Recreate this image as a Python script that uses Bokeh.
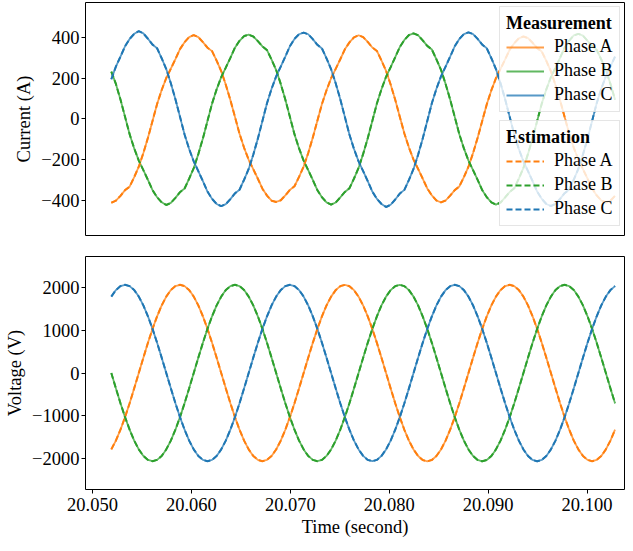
import numpy as np
from bokeh.plotting import figure
from bokeh.layouts import column
from bokeh.models import (Range1d, FixedTicker, CustomJSTickFormatter, PrintfTickFormatter,
                          Legend, LegendItem)
from bokeh.embed import file_html
from bokeh.resources import INLINE

# ---------------- data ----------------
T_START = 20.0519          # first sample time (s)
T_STEP = 0.000463          # sample spacing (s)

ia_meas = [
    -412, -402, -378, -350, -333, -286, -235, -168, -93, -10, 73, 142, 201, 247, 294, 343, 377, 402,
    412, 402, 377, 350, 333, 286, 235, 168, 93, 10, -73, -142, -201, -247, -294, -343, -377, -402,
    -408, -400, -376, -349, -331, -285, -234, -168, -92, -9, 73, 141, 200, 246, 293, 342, 376, 401,
    411, 402, 378, 351, 334, 287, 236, 169, 94, 11, -72, -141, -200, -246, -293, -342, -376, -401,
    -410, -401, -377, -350, -332, -286, -235, -168, -93, -10, 72, 141, 200, 246, 292, 340, 372, 396,
    405, 397, 374, 348, 331, 285, 234, 167, 92, 9, -73, -142, -201, -247, -294, -342, -376, -401,
    -411, -402, -378]
ib_meas = [
    232, 172, 95, 10, -75, -145, -205, -252, -300, -350, -385, -410,
    -423, -413, -388, -360, -342, -294, -242, -173, -96, -10, 75, 145, 205, 252, 300, 350, 384, 407,
    414, 405, 382, 356, 338, 291, 240, 172, 95, 10, -75, -145, -205, -252, -300, -350, -385, -410,
    -421, -411, -386, -359, -341, -293, -241, -172, -95, -10, 76, 146, 207, 254, 303, 353, 388, 412,
    420, 411, 386, 359, 341, 293, 241, 172, 95, 10, -75, -145, -205, -252, -300, -350, -385, -410,
    -421, -411, -386, -359, -341, -293, -241, -172, -95, -10, 75, 145, 205, 252, 300, 350, 385, 410,
    418, 409, 384, 357, 339, 292, 240, 172, 95]
ic_meas = [
    195, 257, 306, 357, 393, 418, 431, 420, 394, 365, 347, 298,
    245, 175, 97, 10, -77, -148, -209, -257, -306, -357, -393, -418,
    -429, -419, -394, -366, -348, -299, -246, -176, -97, -10, 77, 148, 209, 257, 306, 357, 393, 416,
    424, 416, 392, 364, 346, 297, 244, 175, 97, 10, -77, -148, -209, -257, -306, -357, -393, -418,
    -433, -422, -396, -367, -349, -300, -246, -176, -97, -10, 77, 148, 209, 257, 306, 357, 393, 417,
    425, 417, 393, 365, 347, 298, 245, 175, 97, 10, -77, -148, -209, -257, -306, -357, -393, -418,
    -428, -418, -393, -365, -347, -298, -245, -175, -97, -10, 77, 148, 209, 257, 306]

va_meas = [
    -1784, -1578, -1324, -1030, -705, -358, 0, 358, 705, 1030, 1324, 1578, 1784, 1936, 2029, 2060, 2029, 1936,
    1784, 1578, 1324, 1030, 705, 358, 0, -358, -705, -1030, -1324, -1578, -1784, -1936, -2029, -2060, -2029, -1936,
    -1786, -1580, -1325, -1031, -706, -359, -1, 357, 704, 1029, 1323, 1577, 1783, 1935, 2028, 2058, 2027, 1934,
    1782, 1576, 1322, 1028, 703, 356, -1, -359, -706, -1031, -1326, -1580, -1786, -1938, -2031, -2062, -2030, -1937,
    -1785, -1579, -1324, -1030, -705, -358, 0, 358, 705, 1030, 1324, 1578, 1784, 1936, 2029, 2060, 2029, 1936,
    1784, 1578, 1324, 1030, 705, 358, 0, -358, -705, -1030, -1324, -1578, -1784, -1936, -2029, -2060, -2029, -1936,
    -1784, -1578, -1324]
vb_meas = [
    0, -358, -705, -1030, -1324, -1578, -1784, -1936, -2029, -2060, -2029, -1936,
    -1784, -1578, -1324, -1030, -705, -358, 0, 358, 705, 1030, 1324, 1578, 1784, 1936, 2029, 2060, 2029, 1936,
    1784, 1578, 1324, 1030, 705, 358, 0, -358, -705, -1030, -1324, -1578, -1784, -1936, -2029, -2060, -2029, -1936,
    -1785, -1579, -1325, -1031, -706, -359, -1, 357, 704, 1029, 1323, 1577, 1783, 1935, 2028, 2059, 2028, 1935,
    1783, 1577, 1323, 1029, 704, 357, -1, -359, -706, -1031, -1325, -1579, -1785, -1937, -2030, -2061, -2030, -1937,
    -1784, -1578, -1324, -1030, -705, -358, 0, 358, 705, 1030, 1324, 1578, 1784, 1936, 2029, 2060, 2029, 1936,
    1784, 1578, 1324, 1030, 705, 358, 0, -358, -705]
vc_meas = [
    1784, 1936, 2029, 2060, 2029, 1936, 1784, 1578, 1324, 1030, 705, 358,
    0, -358, -705, -1030, -1324, -1578, -1784, -1936, -2029, -2060, -2029, -1936,
    -1784, -1578, -1324, -1030, -705, -358, 0, 358, 705, 1030, 1324, 1578, 1784, 1936, 2029, 2060, 2029, 1936,
    1784, 1578, 1324, 1030, 705, 358, 0, -358, -705, -1030, -1324, -1578, -1784, -1936, -2029, -2060, -2029, -1936,
    -1785, -1579, -1325, -1031, -706, -359, -1, 357, 704, 1029, 1323, 1577, 1783, 1935, 2028, 2059, 2028, 1935,
    1783, 1577, 1323, 1029, 704, 357, -1, -359, -706, -1031, -1325, -1579, -1785, -1937, -2030, -2061, -2030, -1937,
    -1784, -1578, -1324, -1030, -705, -358, 0, 358, 705, 1030, 1324, 1578, 1784, 1936, 2029]

# estimation follows the measurement (visually identical in the chart)
ia_est, ib_est, ic_est = ia_meas, ib_meas, ic_meas
va_est, vb_est, vc_est = va_meas, vb_meas, vc_meas

phase_labels = ["Phase A", "Phase B", "Phase C"]
x_ticks = [20.050, 20.060, 20.070, 20.080, 20.090, 20.100]
current_ticks = [-400, -200, 0, 200, 400]
voltage_ticks = [-2000, -1000, 0, 1000, 2000]

t = T_START + T_STEP * np.arange(len(ia_meas))

# ---------------- styling ----------------
COLORS = ["#ff7f0e", "#2ca02c", "#1f77b4"]
FONT = "Liberation Serif"
FS = "18.5px"
LFS = "18px"
FW = 539
FH = 233

x_range = Range1d(20.04929, 20.04929 + FW / 98.9 * 0.01)
minus_fmt = "return (tick < 0 ? '\\u2212' : '') + Math.abs(tick).toFixed(0);"


def make_fig(yr, yticks, ylabel, show_x, top_border, bottom_border):
    p = figure(frame_width=FW, frame_height=FH, x_range=x_range,
               y_range=Range1d(*yr), output_backend="svg", toolbar_location=None,
               min_border_left=85, min_border_right=1,
               min_border_top=top_border, min_border_bottom=bottom_border)
    p.grid.visible = False
    p.outline_line_color = "#000000"
    p.outline_line_width = 1
    p.background_fill_color = "white"
    p.border_fill_color = "white"
    for ax in [p.xaxis[0], p.yaxis[0]]:
        ax.axis_line_color = None
        ax.major_tick_out = 4
        ax.major_tick_in = 0
        ax.minor_tick_line_color = None
        ax.major_tick_line_color = "black"
        ax.major_label_text_font = FONT
        ax.major_label_text_font_size = FS
        ax.major_label_text_color = "black"
        ax.major_label_standoff = 4
        ax.axis_label_text_font = FONT
        ax.axis_label_text_font_size = FS
        ax.axis_label_text_font_style = "normal"
        ax.axis_label_text_color = "black"
        ax.axis_label_standoff = 3
    p.yaxis[0].major_label_standoff = 2
    p.yaxis[0].axis_label_standoff = 4
    p.yaxis[0].ticker = FixedTicker(ticks=yticks)
    p.yaxis[0].formatter = CustomJSTickFormatter(code=minus_fmt)
    p.yaxis[0].axis_label = ylabel
    p.xaxis[0].ticker = FixedTicker(ticks=x_ticks)
    p.xaxis[0].formatter = PrintfTickFormatter(format="%.3f")
    if show_x:
        p.xaxis[0].axis_label = "Time (second)"
    else:
        p.xaxis[0].visible = False
    return p


def draw(p, meas, est):
    m_r, e_r = [], []
    for y, c in zip(meas, COLORS):
        m_r.append(p.line(t, y, line_color=c, line_width=1.8, line_alpha=0.75))
    for y, c in zip(est, COLORS):
        e_r.append(p.line(t, y, line_color=c, line_width=2, line_dash="6 3"))
    return m_r, e_r


def make_legend(title, renderers, loc):
    leg = Legend(title=title,
                 items=[LegendItem(label=l, renderers=[r]) for l, r in zip(phase_labels, renderers)],
                 location=loc, orientation="vertical")
    leg.title_text_font = FONT
    leg.title_text_font_size = LFS
    leg.title_text_font_style = "bold"
    leg.title_text_color = "black"
    leg.title_standoff = 2
    leg.label_text_font = FONT
    leg.label_text_font_size = LFS
    leg.label_text_color = "black"
    leg.glyph_width = 38
    leg.glyph_height = 20
    leg.label_height = 20
    leg.spacing = 3
    leg.padding = 6
    leg.label_standoff = 10
    leg.margin = 0
    leg.border_line_color = "#cccccc"
    leg.border_line_width = 1
    leg.background_fill_color = "white"
    leg.background_fill_alpha = 0.8
    return leg


p1 = make_fig((-573, 572), current_ticks, "Current (A)", False, 2, 10)
m1, e1 = draw(p1, [ia_meas, ib_meas, ic_meas], [ia_est, ib_est, ic_est])
p1.add_layout(make_legend("Measurement", m1, (414, 123)))
p1.add_layout(make_legend("Estimation", e1, (414, 9)))

p2 = make_fig((-2720, 2720), voltage_ticks, "Voltage (V)", True, 11, 5)
draw(p2, [va_meas, vb_meas, vc_meas], [va_est, vb_est, vc_est])

layout = column(p1, p2, spacing=0)
open("out.html", "w").write(file_html(layout, INLINE))
